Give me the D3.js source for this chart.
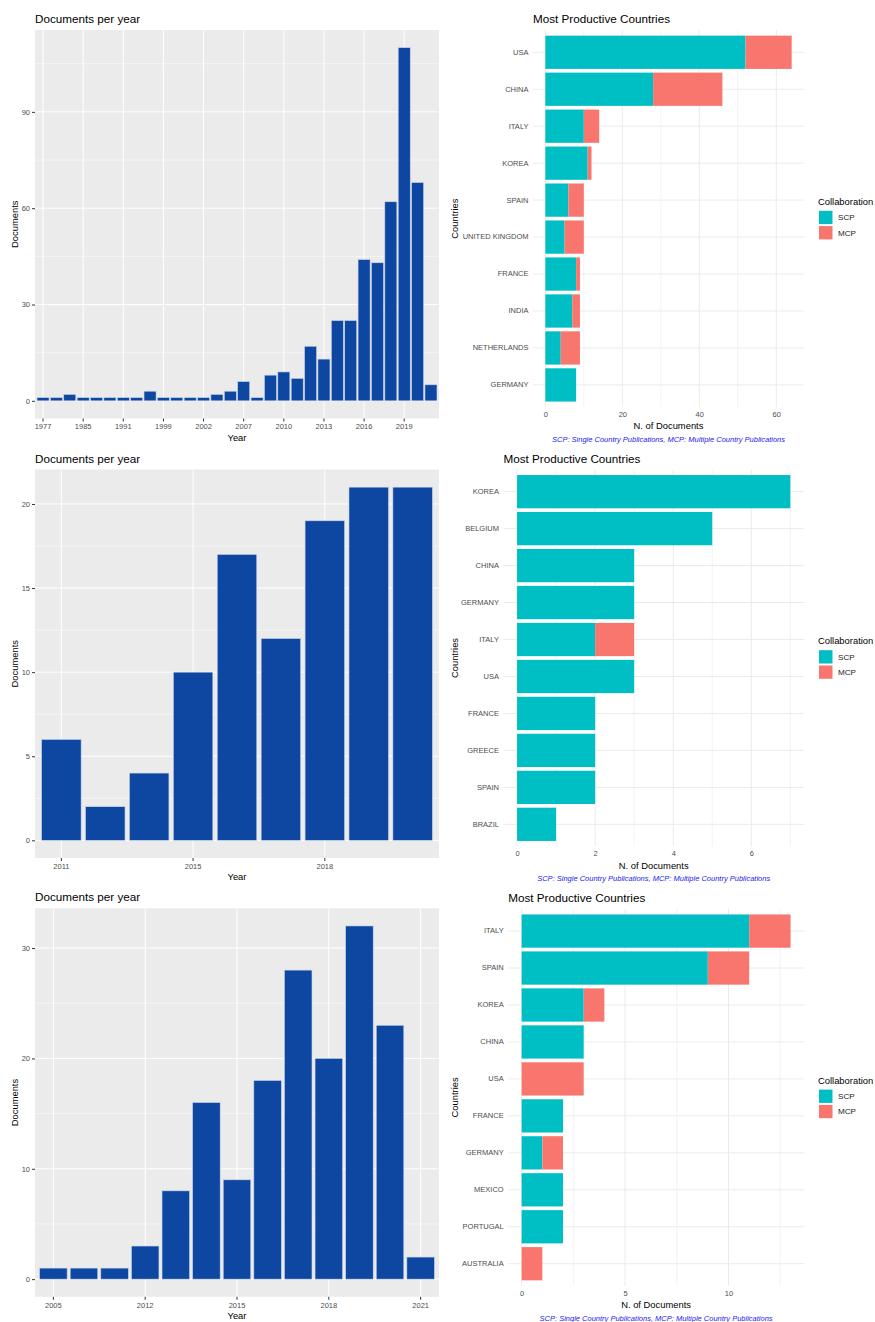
<!DOCTYPE html>
<html>
<head>
<meta charset="utf-8">
<script src="https://cdn.jsdelivr.net/npm/d3@7"></script>
<style>
  body { margin: 0; background: #fff; }
  svg text { font-family: "Liberation Sans", Arial, sans-serif; }
</style>
</head>
<body>
<svg id="chart" width="875" height="1322"></svg>
<script>
// --- documents per year (left column) ---
var years1 = ['1977','1980','1983','1985','1987','1989','1991','1994','1997','1999','2000','2001','2002','2003','2005',
              '2007','2008','2009','2010','2011','2012','2013','2014','2015','2016','2017','2018','2019','2020','2021']
var docs1 = [1,1,2,1,1,1,1,1,3,1,1,1,1,2,3,6,1,8,9,7,17,13,25,25,44,43,62,110,68,5]
var yTicks1 = [0,30,60,90]

var years2 = ['2011','2013','2014','2015','2016','2017','2018','2019','2020']
var docs2 = [6,2,4,10,17,12,19,21,21]
var yTicks2 = [0,5,10,15,20]

var years3 = ['2005','2008','2010','2012','2013','2014','2015','2016','2017','2018','2019','2020','2021']
var docs3 = [1,1,1,3,8,16,9,18,28,20,32,23,2]
var yTicks3 = [0,10,20,30]

// --- most productive countries (right column) ---
var countries1 = ['USA','CHINA','ITALY','KOREA','SPAIN','UNITED KINGDOM','FRANCE','INDIA','NETHERLANDS','GERMANY']
var scp1 = [52,28,10,11,6,5,8,7,4,8]
var mcp1 = [12,18,4,1,4,5,1,2,5,0]
var xTicks1 = [0,20,40,60]

var countries2 = ['KOREA','BELGIUM','CHINA','GERMANY','ITALY','USA','FRANCE','GREECE','SPAIN','BRAZIL']
var scp2 = [7,5,3,3,2,3,2,2,2,1]
var mcp2 = [0,0,0,0,1,0,0,0,0,0]
var xTicks2 = [0,2,4,6]

var countries3 = ['ITALY','SPAIN','KOREA','CHINA','USA','FRANCE','GERMANY','MEXICO','PORTUGAL','AUSTRALIA']
var scp3 = [11,9,3,3,0,2,1,2,2,0]
var mcp3 = [2,2,1,0,3,0,1,0,0,1]
var xTicks3 = [0,5,10]

var collabKeys = ['SCP','MCP']
var collabColors = ['#00BFC4','#F8766D']

var svg = d3.select('#chart')

// minor breaks halfway between the major ones, kept inside the domain
function minorBreaks(ticks, domain) {
  var step = ticks[1] - ticks[0]
  var out = []
  for (var v = ticks[0] - step/2; v <= ticks[ticks.length-1] + step/2; v += step) {
    if (v >= domain[0] && v <= domain[1]) out.push(v)
  }
  return out
}

function drawYears(top, years, docs, ticks) {
  var left = 35, right = 439, bottom = top + 388.5
  var max = d3.max(docs)
  var x = d3.scaleBand().domain(years).range([left, right]).paddingInner(0.1).paddingOuter(0.15)
  var y = d3.scaleLinear().domain([-0.05*max, 1.05*max]).range([bottom, top])
  var shown = years.filter(function(d,i){ return i % 3 == 0 })
  var g = svg.append('g')

  g.append('rect').attr('x', left).attr('y', top).attr('width', right-left).attr('height', bottom-top).attr('fill', '#EBEBEB')

  g.selectAll('.minor').data(minorBreaks(ticks, y.domain())).enter().append('line')
    .attr('x1', left).attr('x2', right).attr('y1', function(d){ return y(d) }).attr('y2', function(d){ return y(d) })
    .attr('stroke', '#fff').attr('stroke-width', 0.5)
  g.selectAll('.hmajor').data(ticks).enter().append('line')
    .attr('x1', left).attr('x2', right).attr('y1', function(d){ return y(d) }).attr('y2', function(d){ return y(d) })
    .attr('stroke', '#fff').attr('stroke-width', 1)
  g.selectAll('.vmajor').data(shown).enter().append('line')
    .attr('y1', top).attr('y2', bottom)
    .attr('x1', function(d){ return x(d) + x.bandwidth()/2 }).attr('x2', function(d){ return x(d) + x.bandwidth()/2 })
    .attr('stroke', '#fff').attr('stroke-width', 1)

  g.selectAll('.bar').data(docs).enter().append('rect')
    .attr('x', function(d,i){ return x(years[i]) })
    .attr('width', x.bandwidth())
    .attr('y', function(d){ return y(d) })
    .attr('height', function(d){ return y(0) - y(d) })
    .attr('fill', '#0D47A1')
    .attr('stroke', '#c9d4e8').attr('stroke-width', 0.6)

  var ya = g.append('g').attr('transform', 'translate(' + left + ',0)')
    .call(d3.axisLeft(y).tickValues(ticks).tickSize(3).tickPadding(2))
  var xa = g.append('g').attr('transform', 'translate(0,' + bottom + ')')
    .call(d3.axisBottom(x).tickValues(shown).tickSize(3).tickPadding(2.5))
  ;[ya, xa].forEach(function(a){
    a.select('.domain').remove()
    a.selectAll('line').attr('stroke', '#333')
    a.selectAll('text').attr('fill', '#4D4D4D').style('font-size', '7.5px')
  })

  g.append('text').attr('x', left).attr('y', top - 7).text('Documents per year')
    .style('font-size', '11.7px').attr('fill', '#000')
  g.append('text').attr('x', (left+right)/2).attr('y', bottom + 22).attr('text-anchor', 'middle')
    .text('Year').style('font-size', '9.4px')
  g.append('text').attr('transform', 'translate(17.5,' + (top+bottom)/2 + ') rotate(-90)')
    .attr('text-anchor', 'middle').text('Documents').style('font-size', '9.4px')
}

function drawCountries(top, left, countries, scp, mcp, ticks) {
  var right = 804, bottom = top + 377
  var rows = countries.map(function(c,i){ return {country: c, SCP: scp[i], MCP: mcp[i]} })
  var max = d3.max(rows, function(d){ return d.SCP + d.MCP })
  var x = d3.scaleLinear().domain([-0.05*max, 1.05*max]).range([left, right])
  var y = d3.scaleBand().domain(countries).range([top, bottom]).paddingInner(0.1).paddingOuter(0.15)
  var series = d3.stack().keys(collabKeys)(rows)
  var g = svg.append('g')

  g.selectAll('.minor').data(minorBreaks(ticks, x.domain())).enter().append('line')
    .attr('y1', top).attr('y2', bottom).attr('x1', function(d){ return x(d) }).attr('x2', function(d){ return x(d) })
    .attr('stroke', '#EBEBEB').attr('stroke-width', 0.6)
  g.selectAll('.vmajor').data(ticks).enter().append('line')
    .attr('y1', top).attr('y2', bottom).attr('x1', function(d){ return x(d) }).attr('x2', function(d){ return x(d) })
    .attr('stroke', '#EBEBEB').attr('stroke-width', 1)
  g.selectAll('.hmajor').data(countries).enter().append('line')
    .attr('x1', left).attr('x2', right)
    .attr('y1', function(d){ return y(d) + y.bandwidth()/2 }).attr('y2', function(d){ return y(d) + y.bandwidth()/2 })
    .attr('stroke', '#EBEBEB').attr('stroke-width', 1)

  g.selectAll('.series').data(series).enter().append('g')
    .attr('fill', function(d,i){ return collabColors[i] })
    .selectAll('rect').data(function(d){ return d.filter(function(p){ return p[1] > p[0] }) }).enter().append('rect')
    .attr('x', function(d){ return x(d[0]) })
    .attr('width', function(d){ return x(d[1]) - x(d[0]) })
    .attr('y', function(d){ return y(d.data.country) })
    .attr('height', y.bandwidth())

  var ya = g.append('g').attr('transform', 'translate(' + left + ',0)')
    .call(d3.axisLeft(y).tickSize(0).tickPadding(4.5))
  var xa = g.append('g').attr('transform', 'translate(0,' + bottom + ')')
    .call(d3.axisBottom(x).tickValues(ticks).tickSize(0).tickPadding(4.4))
  ;[ya, xa].forEach(function(a){
    a.select('.domain').remove()
    a.selectAll('text').attr('fill', '#4D4D4D').style('font-size', '7.5px')
  })

  g.append('text').attr('x', left).attr('y', top - 7).text('Most Productive Countries')
    .style('font-size', '11.7px').attr('fill', '#000')
  g.append('text').attr('x', (left+right)/2).attr('y', bottom + 22).attr('text-anchor', 'middle')
    .text('N. of Documents').style('font-size', '9.4px')
  g.append('text').attr('x', (left+right)/2).attr('y', bottom + 34.7).attr('text-anchor', 'middle')
    .text('SCP: Single Country Publications, MCP: Multiple Country Publications')
    .style('font-size', '7.5px').style('font-style', 'italic').attr('fill', '#2222EE')
  g.append('text').attr('transform', 'translate(457.5,' + (top+bottom)/2 + ') rotate(-90)')
    .attr('text-anchor', 'middle').text('Countries').style('font-size', '9.4px')

  // legend
  var mid = (top + bottom) / 2
  var lg = g.append('g').attr('transform', 'translate(818,' + mid + ')')
  lg.append('text').attr('x', 0).attr('y', -17 + 3.4).text('Collaboration').style('font-size', '9.4px')
  var items = lg.selectAll('.key').data(collabKeys).enter().append('g')
    .attr('transform', function(d,i){ return 'translate(1,' + (i == 0 ? -7.8 : 7.5) + ')' })
  items.append('rect').attr('width', 13.5).attr('height', 13.3)
    .attr('fill', function(d,i){ return collabColors[i] })
  items.append('text').attr('x', 19).attr('y', 6.65 + 2.9).text(function(d){ return d })
    .style('font-size', '8.1px').attr('fill', '#222')
}

drawYears(30, years1, docs1, yTicks1)
drawYears(469.5, years2, docs2, yTicks2)
drawYears(908.3, years3, docs3, yTicks3)

drawCountries(30.1, 533, countries1, scp1, mcp1, xTicks1)
drawCountries(469.5, 503.4, countries2, scp2, mcp2, xTicks2)
drawCountries(908.9, 508.2, countries3, scp3, mcp3, xTicks3)
</script>
</body>
</html>
